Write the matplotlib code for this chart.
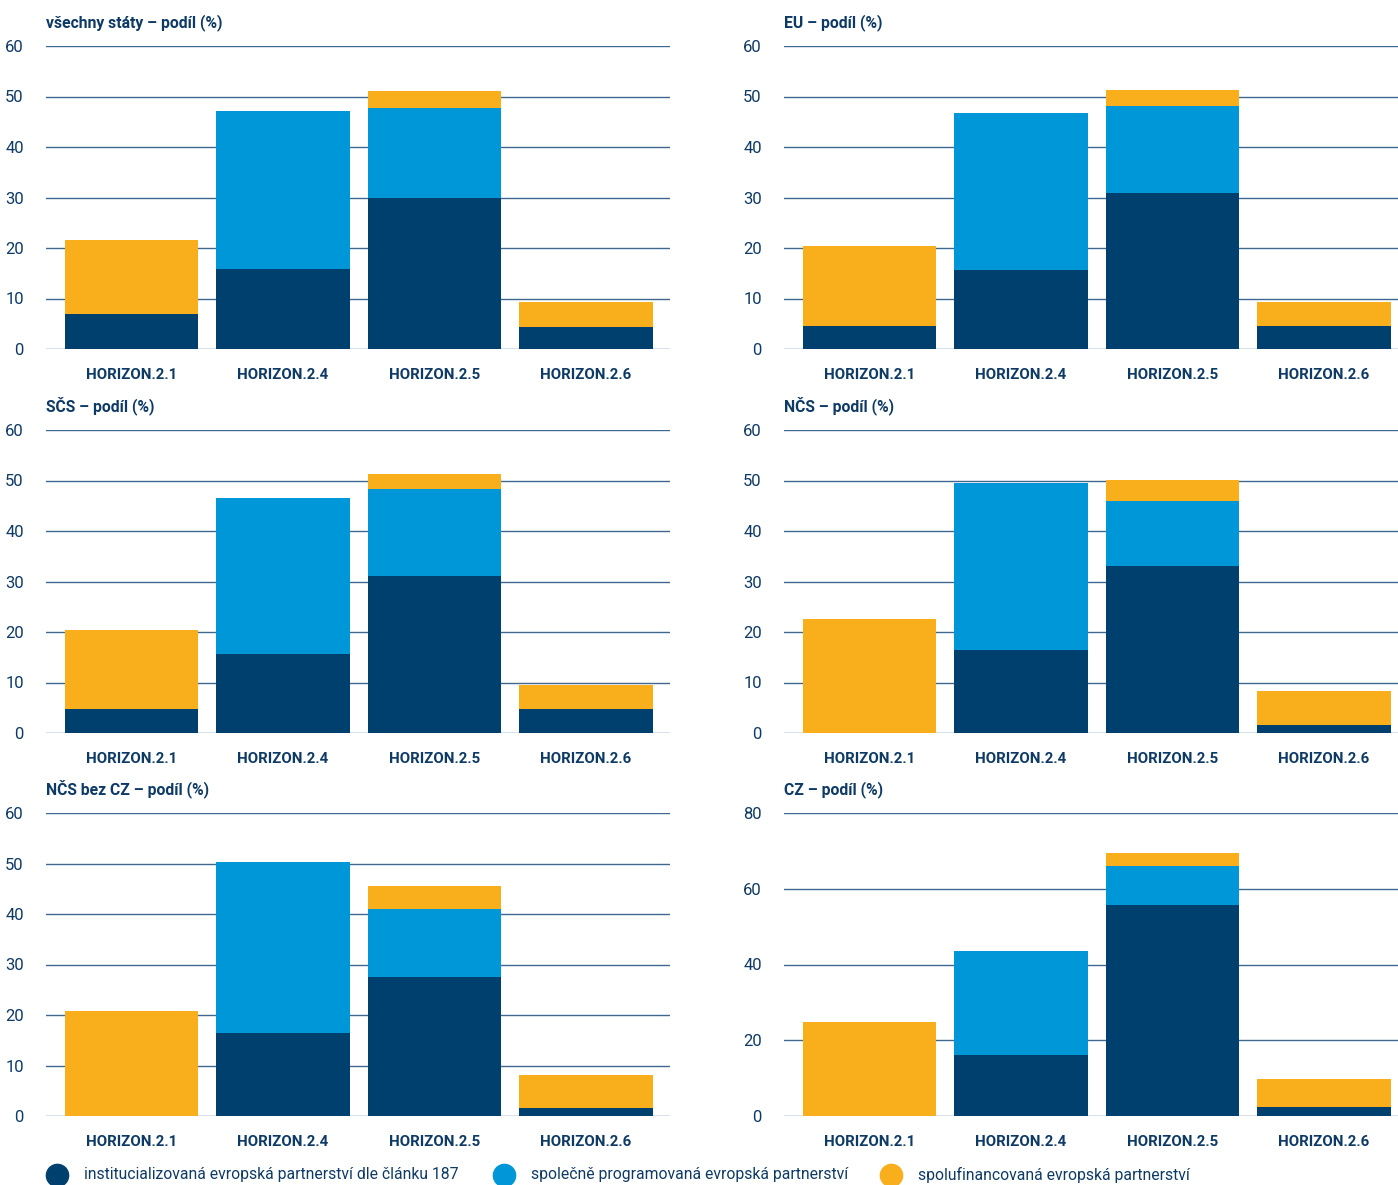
import numpy as np
import matplotlib.pyplot as plt
from matplotlib.lines import Line2D

plt.rcParams['font.family'] = ['Roboto', 'DejaVu Sans']

categories = ["HORIZON.2.1", "HORIZON.2.4", "HORIZON.2.5", "HORIZON.2.6"]

titles = ["všechny státy – podíl (%)", "EU – podíl (%)", "SČS – podíl (%)",
          "NČS – podíl (%)", "NČS bez CZ – podíl (%)", "CZ – podíl (%)"]

# institucializovaná partnerství dle čl. 187
inst = [
    [6.9, 15.8, 29.9, 4.4],
    [4.6, 15.6, 30.9, 4.6],
    [4.8, 15.7, 31.0, 4.8],
    [0.0, 16.5, 33.0, 1.6],
    [0.0, 16.4, 27.5, 1.6],
    [0.0, 16.1, 55.7, 2.4],
]
# společně programovaná partnerství
spol = [
    [0.0, 31.3, 17.8, 0.0],
    [0.0, 31.1, 17.2, 0.0],
    [0.0, 30.8, 17.3, 0.0],
    [0.0, 33.0, 12.9, 0.0],
    [0.0, 33.9, 13.5, 0.0],
    [0.0, 27.5, 10.3, 0.0],
]
# spolufinancovaná partnerství
cofin = [
    [14.7, 0.0, 3.4, 4.9],
    [15.8, 0.0, 3.2, 4.7],
    [15.5, 0.0, 3.0, 4.7],
    [22.5, 0.0, 4.2, 6.7],
    [20.8, 0.0, 4.5, 6.5],
    [24.8, 0.0, 3.4, 7.4],
]
y_max = [60, 60, 60, 60, 60, 80]
y_step = [10, 10, 10, 10, 10, 20]

legend_labels = ["institucializovaná evropská partnerství dle článku 187",
                 "společně programovaná evropská partnerství",
                 "spolufinancovaná evropská partnerství"]

navy = "#00406e"
blue = "#0097d8"
orange = "#f9ae1c"
text_col = "#0e3a66"
grid_col = "#3f6890"

W, H = 1398, 1185
fig = plt.figure(figsize=(W / 100, H / 100), dpi=100)

lefts = [46, 784]
tops = [46, 430, 813]
ax_w, ax_h = 624, 303

x = np.arange(len(categories))
for i in range(6):
    row, col = divmod(i, 2)
    ax = fig.add_axes([lefts[col] / W, 1 - (tops[row] + ax_h) / H, ax_w / W, ax_h / H])
    a = np.array(inst[i]); b = np.array(spol[i]); c = np.array(cofin[i])
    ax.bar(x, a, width=0.88, color=navy, zorder=3)
    ax.bar(x, b, width=0.88, bottom=a, color=blue, zorder=3)
    ax.bar(x, c, width=0.88, bottom=a + b, color=orange, zorder=3)
    ax.set_xlim(-0.565, 3.555)
    ax.set_ylim(0, y_max[i])
    ax.set_yticks(np.arange(0, y_max[i] + 1, y_step[i]))
    for yv in ax.get_yticks():
        ax.axhline(yv, color=grid_col, lw=1, zorder=1)
    for s in ax.spines.values():
        s.set_visible(False)
    ax.set_xticks(x)
    ax.set_xticklabels(categories, fontweight='bold')
    ax.tick_params(axis='both', length=0, colors=text_col)
    ax.tick_params(axis='x', labelsize=10.8, pad=14)
    ax.tick_params(axis='y', labelsize=12, pad=16)
    ax.text(0, 1.048, titles[i], transform=ax.transAxes, fontsize=11.3,
            fontweight='bold', color=text_col, va='bottom', ha='left')

# legend
leg_y = 1 - 1175 / H
for xm, xt, col_, lab in [(57, 84, navy, legend_labels[0]),
                          (504, 531, blue, legend_labels[1]),
                          (891, 918, orange, legend_labels[2])]:
    fig.add_artist(Line2D([xm / W], [leg_y], marker='o', markersize=16,
                          color=col_, transform=fig.transFigure))
    fig.text(xt / W, leg_y, lab, fontsize=11.3, color=text_col, va='center', ha='left')

fig.savefig("out.png", dpi=100)
